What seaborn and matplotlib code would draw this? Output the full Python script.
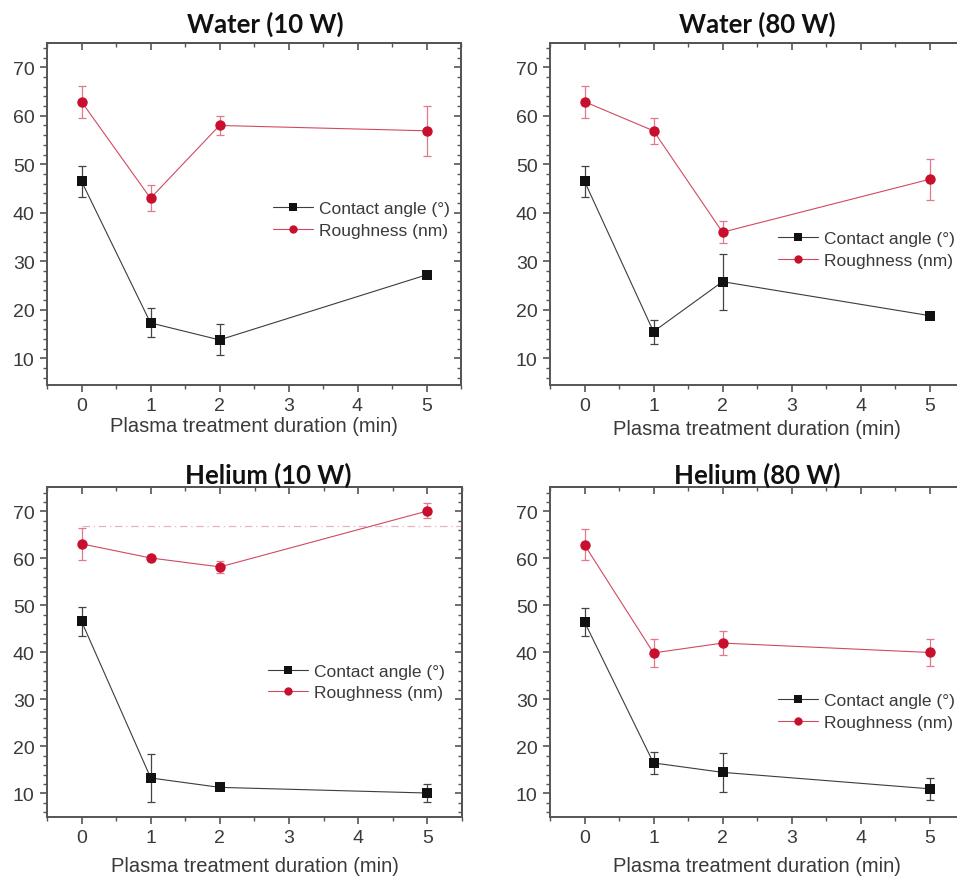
import matplotlib
matplotlib.use("Agg")
import matplotlib.pyplot as plt
import numpy as np
import pandas as pd
import seaborn as sns
from matplotlib.ticker import MultipleLocator

# ---- data -------------------------------------------------------------
duration = [0, 1, 2, 5]
series_names = ["Contact angle (°)", "Roughness (nm)"]
panel_titles = ["Water (10 W)", "Water (80 W)", "Helium (10 W)", "Helium (80 W)"]
x_ticks = [0, 1, 2, 3, 4, 5]
y_ticks = [10, 20, 30, 40, 50, 60, 70]

water10_angle = [46.5, 17.3, 13.8, 27.2]
water10_angle_err = [3.2, 3.0, 3.2, 0.4]
water10_rough = [62.9, 43.0, 58.0, 56.9]
water10_rough_err = [3.3, 2.7, 2.0, 5.1]

water80_angle = [46.5, 15.5, 25.8, 18.8]
water80_angle_err = [3.2, 2.5, 5.8, 0.4]
water80_rough = [62.9, 56.9, 36.0, 46.9]
water80_rough_err = [3.3, 2.7, 2.3, 4.2]

helium10_angle = [46.6, 13.3, 11.3, 10.1]
helium10_angle_err = [3.0, 5.1, 0.4, 2.0]
helium10_rough = [63.1, 60.1, 58.2, 70.1]
helium10_rough_err = [3.4, 0.4, 1.2, 1.6]
helium10_ref_level = 67.0

helium80_angle = [46.5, 16.5, 14.5, 11.0]
helium80_angle_err = [3.0, 2.3, 4.2, 2.4]
helium80_rough = [62.9, 39.9, 42.0, 40.0]
helium80_rough_err = [3.3, 3.0, 2.6, 2.8]

# ---- style ------------------------------------------------------------
sns.set_theme(style="ticks")
plt.rcParams["font.family"] = ["Liberation Sans", "DejaVu Sans"]
plt.rcParams["axes.unicode_minus"] = False

ANGLE_COLOR = "#111111"
ROUGH_COLOR = "#c8102e"
ANGLE_LINE = "#3c3c3c"
ROUGH_LINE = "#d24a60"
SPINE_COLOR = "#555555"
TEXT_COLOR = "#3a3a3a"

W, H = 957, 879
fig = plt.figure(figsize=(W / 100, H / 100), dpi=100)


def frac_box(left, top, right, bottom):
    return [left / W, 1 - bottom / H, (right - left) / W, (bottom - top) / H]


panels = [
    dict(title=panel_titles[0], angle=water10_angle, aerr=water10_angle_err,
         rough=water10_rough, rerr=water10_rough_err,
         box=frac_box(47, 44, 461, 386), ylim=(4.5, 75), title_x=0.527,
         title_pad=8, xlabel_pad=1, leg=(0.546, 0.537)),
    dict(title=panel_titles[1], angle=water80_angle, aerr=water80_angle_err,
         rough=water80_rough, rerr=water80_rough_err,
         box=frac_box(550, 44, 964, 386), ylim=(4.5, 75), title_x=0.5,
         title_pad=8, xlabel_pad=3, leg=(0.551, 0.451)),
    dict(title=panel_titles[2], angle=helium10_angle, aerr=helium10_angle_err,
         rough=helium10_rough, rerr=helium10_rough_err,
         box=frac_box(47, 488, 462, 818), ylim=(5, 75.2), title_x=0.533,
         title_pad=3, xlabel_pad=7, leg=(0.533, 0.465), ref=helium10_ref_level),
    dict(title=panel_titles[3], angle=helium80_angle, aerr=helium80_angle_err,
         rough=helium80_rough, rerr=helium80_rough_err,
         box=frac_box(550, 488, 964, 818), ylim=(5, 75.2), title_x=0.5,
         title_pad=3, xlabel_pad=7, leg=(0.551, 0.375)),
]

for p in panels:
    ax = fig.add_axes(p["box"])
    df = pd.DataFrame({
        "Duration": duration * 2,
        "Value": p["angle"] + p["rough"],
        "Series": [series_names[0]] * 4 + [series_names[1]] * 4,
    })

    if "ref" in p:
        ax.hlines(p["ref"], 0, 5.5, colors="#e9b3bd", linestyles=(0, (6, 3, 1, 3)),
                  linewidth=0.9, zorder=1)

    ax.errorbar(duration, p["angle"], yerr=p["aerr"], fmt="none",
                ecolor="#444444", elinewidth=0.9, capsize=3.2, capthick=0.9, zorder=2)
    ax.errorbar(duration, p["rough"], yerr=p["rerr"], fmt="none",
                ecolor="#e07a8a", elinewidth=0.9, capsize=3.2, capthick=0.9, zorder=2)

    sns.lineplot(data=df, x="Duration", y="Value", hue="Series", style="Series",
                 palette={series_names[0]: ANGLE_COLOR, series_names[1]: ROUGH_COLOR},
                 markers={series_names[0]: "s", series_names[1]: "o"},
                 dashes=False, linewidth=0.8, markersize=7.5, markeredgewidth=0,
                 ax=ax, zorder=3)

    # thin, lighter connecting lines; markers keep the full colour
    line_cols = {ANGLE_COLOR: ANGLE_LINE, ROUGH_COLOR: ROUGH_LINE}
    for ln in ax.lines:
        c = matplotlib.colors.to_hex(ln.get_color())
        for full, light in line_cols.items():
            if c == full:
                ln.set_markerfacecolor(full)
                ln.set_markeredgecolor(full)
                ln.set_color(light)

    ax.set_xlim(-0.5, 5.5)
    ax.set_ylim(*p["ylim"])
    ax.set_xticks(x_ticks)
    ax.set_yticks(y_ticks)
    ax.xaxis.set_minor_locator(MultipleLocator(0.5))
    ax.yaxis.set_minor_locator(MultipleLocator(2))
    ax.tick_params(axis="both", which="major", direction="out", length=5, width=1.2,
                   color=SPINE_COLOR, labelsize=14, labelcolor=TEXT_COLOR, pad=4)
    ax.tick_params(axis="both", which="minor", direction="out", length=2.6, width=1.0,
                   color=SPINE_COLOR)

    for s in ax.spines.values():
        s.set_visible(True)
        s.set_color(SPINE_COLOR)
        s.set_linewidth(1.4)

    # inward ticks on the top and right frame
    top = ax.secondary_xaxis("top")
    top.set_xticks(x_ticks)
    top.xaxis.set_minor_locator(MultipleLocator(0.5))
    top.tick_params(which="major", direction="in", length=5, width=1.2,
                    color=SPINE_COLOR, labeltop=False)
    top.tick_params(which="minor", direction="in", length=2.6, width=1.0,
                    color=SPINE_COLOR)
    top.spines["top"].set_color(SPINE_COLOR)
    top.spines["top"].set_linewidth(1.4)
    right = ax.secondary_yaxis("right")
    right.set_yticks(y_ticks)
    right.yaxis.set_minor_locator(MultipleLocator(2))
    right.tick_params(which="major", direction="in", length=5, width=1.2,
                      color=SPINE_COLOR, labelright=False)
    right.tick_params(which="minor", direction="in", length=2.6, width=1.0,
                      color=SPINE_COLOR)
    right.spines["right"].set_color(SPINE_COLOR)
    right.spines["right"].set_linewidth(1.4)

    ax.set_xlabel("Plasma treatment duration (min)", fontsize=14.5,
                  color=TEXT_COLOR, labelpad=p["xlabel_pad"])
    ax.set_ylabel("")
    ax.set_title(p["title"], fontsize=18.5, fontweight="bold", family=["Lato", "DejaVu Sans"],
                 color="#111111", x=p["title_x"], pad=p["title_pad"])

    leg = ax.legend(frameon=False, loc="upper left", bbox_to_anchor=p["leg"],
                    fontsize=12.5, handlelength=2.3, handletextpad=0.35,
                    labelspacing=0.38, borderpad=0, borderaxespad=0)
    for t in leg.get_texts():
        t.set_color(TEXT_COLOR)
    for h in leg.legend_handles:
        h.set_markersize(6)

fig.savefig("out.png", dpi=100)
